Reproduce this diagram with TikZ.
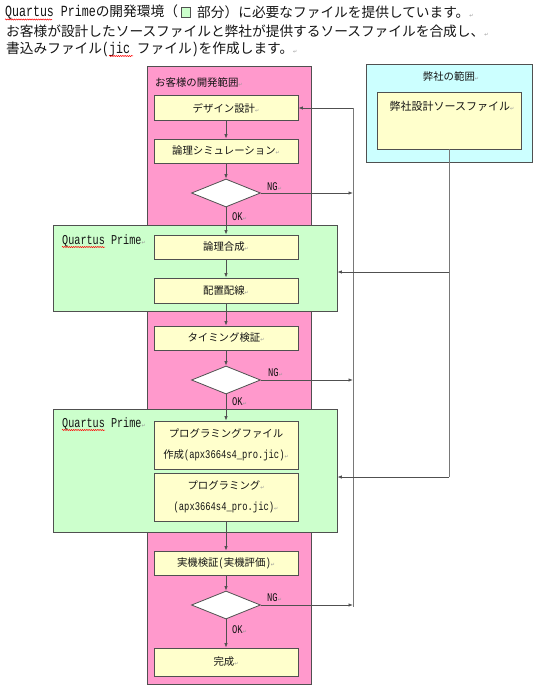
\documentclass[tikz,border=0pt]{standalone}
\usepackage{fontspec}
\setmainfont{Noto Sans CJK JP}
\newfontfamily\monof[FakeStretch=0.75,Scale=1.13]{Liberation Mono}
\newfontfamily\djv{DejaVu Sans}
\usetikzlibrary{shapes.geometric,arrows.meta,decorations.pathmorphing}
\definecolor{pinkf}{RGB}{255,153,204}
\definecolor{greenf}{RGB}{204,255,204}
\definecolor{bluef}{RGB}{204,255,255}
\definecolor{yellf}{RGB}{255,255,204}
\definecolor{edgec}{RGB}{80,80,80}
\definecolor{busc}{RGB}{120,120,120}
\definecolor{txt}{RGB}{20,20,20}
\definecolor{retcol}{RGB}{150,150,150}
\newcommand{\lt}[1]{{\monof #1}}
\newcommand{\rt}{{\djv\fontsize{5}{5}\selectfont\color{retcol}↵}}
\begin{document}
\begin{tikzpicture}[x=1pt,y=-1pt,
  region/.style={draw=edgec, line width=0.8pt, inner sep=0pt},
  stepbox/.style={draw=edgec, line width=0.8pt, fill=yellf, minimum width=144pt, inner sep=0pt,
    font=\fontsize{10.4}{21}\selectfont, text=txt, align=center},
  decision/.style={diamond, draw=edgec, line width=0.8pt, fill=white, minimum width=69pt, minimum height=28pt, inner sep=0pt},
  arr/.style={draw=edgec, line width=0.8pt, -{Latex[length=4.5pt,width=3.5pt]}},
  bus/.style={draw=busc, line width=0.8pt},
  lab/.style={inner sep=0pt, anchor=west, text=txt, font=\fontsize{10.4}{12}\selectfont},
  hdr/.style={inner sep=0pt, anchor=west, text=txt, font=\fontsize{13.7}{16}\selectfont},
  spell/.style={draw=red, line width=0.5pt, decorate, decoration={snake, amplitude=0.6pt, segment length=2.2pt}},
]
\useasboundingbox (0,0) rectangle (541,690);
\fill[white] (0,0) rectangle (541,690);

% header
\node[hdr] (h1a) at (5,12.5) {\lt{Quartus Prime}の開発環境（};
\node[draw=edgec, line width=0.6pt, fill=greenf, minimum width=9pt, minimum height=10pt, inner sep=0pt] (sq) at (185.5,12) {};
\node[hdr] (h1b) at (197,12.5) {部分）に必要なファイルを提供しています。\rt};
\node[hdr] (h2) at (6,31) {お客様が設計したソースファイルと弊社が提供するソースファイルを合成し、\rt};
\node[hdr] (h3) at (6,49) {書込みファイル\lt{(jic }ファイル\lt{)}を作成します。\rt};
\draw[spell] (5,19.5) -- (52,19.5);
\draw[spell] (109,56) -- (133,56);

% regions
\node[region, fill=pinkf, minimum width=164pt, minimum height=618pt] (cust) at (229,375) {};
\node[region, fill=greenf, minimum width=284pt, minimum height=86pt] (qp1) at (195,268) {};
\node[region, fill=greenf, minimum width=284pt, minimum height=123pt] (qp2) at (195,470.5) {};
\node[region, fill=bluef, minimum width=166pt, minimum height=98pt] (ours) at (449,113) {};
\node[stepbox, minimum height=57pt] (src) at (449,120.5) {};

\node[lab] (custlab) at (155,83) {お客様の開発範囲\rt};
\node[lab, anchor=center] (ourslab) at (451,77) {弊社の範囲\rt};
\node[lab, anchor=center, font=\fontsize{11}{12}\selectfont] (srclab) at (452,106) {弊社設計ソースファイル\rt};
\node[lab, font=\fontsize{12}{12}\selectfont\monof] (qp1lab) at (62,241) {Quartus Prime\rt};
\node[lab, font=\fontsize{12}{12}\selectfont\monof] (qp2lab) at (62,424) {Quartus Prime\rt};
\draw[spell] (62,247) -- (105,247);
\draw[spell] (62,430) -- (105,430);

% steps
\node[stepbox, minimum height=25pt] (design) at (226,108) {デザイン設計\rt};
\node[stepbox, minimum height=24pt] (logsim) at (226,151) {論理シミュレーション\rt};
\node[decision] (d1) at (226,193) {};
\node[stepbox, minimum height=24pt] (synth) at (226,247) {論理合成\rt};
\node[stepbox, minimum height=25pt] (pr) at (226,290.5) {配置配線\rt};
\node[stepbox, minimum height=24pt] (timing) at (226,338) {タイミング検証\rt};
\node[decision] (d2) at (226,380) {};
\node[stepbox, minimum height=48pt] (pfile) at (226,445) {プログラミングファイル\\作成\lt{(apx3664s4\_pro.jic)}\rt};
\node[stepbox, minimum height=48pt] (prog) at (226,497) {プログラミング\rt\\\lt{(apx3664s4\_pro.jic)}\rt};
\node[stepbox, minimum height=24pt] (jikki) at (226,563) {実機検証\lt{(}実機評価\lt{)}\rt};
\node[decision] (d3) at (226,605) {};
\node[stepbox, minimum height=28pt] (done) at (226,662) {完成\rt};

% labels
\node[lab] (ng1) at (267,187) {\lt{NG}\rt};
\node[lab] (ok1) at (232,217) {\lt{OK}\rt};
\node[lab] (ng2) at (268,373) {\lt{NG}\rt};
\node[lab] (ok2) at (232,402) {\lt{OK}\rt};
\node[lab] (ng3) at (267,598) {\lt{NG}\rt};
\node[lab] (ok3) at (232,630) {\lt{OK}\rt};

% main flow
\draw[arr] (design) -- (logsim);
\draw[arr] (logsim) -- (d1);
\draw[arr] (d1) -- (synth);
\draw[arr] (synth) -- (pr);
\draw[arr] (pr) -- (timing);
\draw[arr] (timing) -- (d2);
\draw[arr] (d2) -- (pfile);
\draw[arr] (prog) -- (jikki);
\draw[arr] (jikki) -- (d3);
\draw[arr] (d3) -- (done);

% feedback bus
\coordinate (busT) at (353,108);
\coordinate (busB) at (353,607);
\draw[bus] (busT) -- (busB);
\draw[arr] (busT) -- (design);
\draw[arr] (d1) -- (d1 -| busT);
\draw[arr] (d2) -- (d2 -| busT);
\draw[arr] (d3) -- (d3 -| busT);

% source bus
\coordinate (j1) at (449,272);
\coordinate (j2) at (449,477);
\draw[bus] (src) -- (j2);
\draw[arr] (j1) -- (j1 -| qp1.east);
\draw[arr] (j2) -- (j2 -| qp2.east);
\end{tikzpicture}
\end{document}
